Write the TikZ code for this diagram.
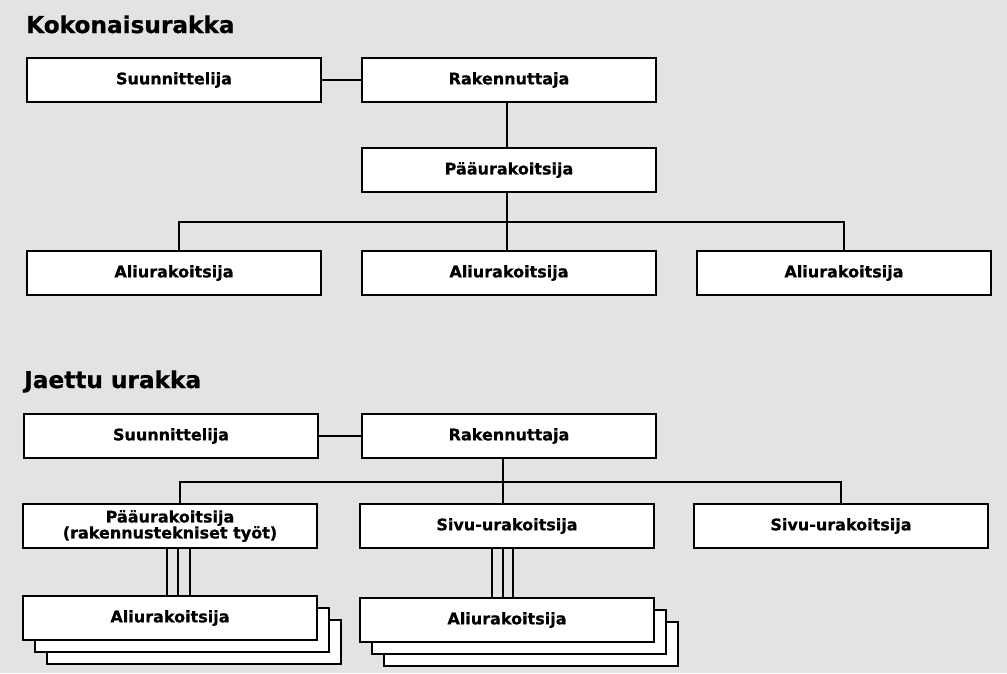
\documentclass[tikz,border=0pt]{standalone}
\usepackage{fontspec}
\setmainfont{DejaVu Sans}
\newfontfamily\labelfont{DejaVu Sans Bold}[FakeBold=0.8]
\begin{document}
\begin{tikzpicture}[x=1pt,y=-1pt,
  orgbox/.style={draw, fill=white, line width=2.2pt, inner sep=0pt,
    minimum width=294pt, minimum height=44pt, align=center,
    font=\labelfont\fontsize{16}{17}\selectfont},
  conn/.style={line width=2.2pt},
  heading/.style={anchor=base west, inner sep=0pt,
    font=\labelfont\fontsize{23.2}{26}\selectfont}]
% background
\fill[black!11] (0,0) rectangle (1007,673);
\useasboundingbox (0,0) rectangle (1007,673);

% ---------- Kokonaisurakka ----------
\node[heading] (t1) at (26,33) {Kokonaisurakka};
\node[orgbox] (s1) at (174,80) {Suunnittelija};
\node[orgbox] (r1) at (509,80) {Rakennuttaja};
\node[orgbox] (p1) at (509,170) {Pääurakoitsija};
\node[orgbox] (a1l) at (174,273) {Aliurakoitsija};
\node[orgbox] (a1m) at (509,273) {Aliurakoitsija};
\node[orgbox] (a1r) at (844,273) {Aliurakoitsija};
\coordinate (bus1) at (0,222);

\draw[conn] (s1) -- (r1);
\draw[conn] ([xshift=-2pt]r1.south) -- ([xshift=-2pt]p1.north);
\draw[conn] ([xshift=-2pt]p1.south) -- ([xshift=-2pt]a1m.north);
\draw[conn] ([xshift=5pt]a1l.north) -- ([xshift=5pt]a1l.north |- bus1)
  -- (a1r.north |- bus1) -- (a1r.north);

% ---------- Jaettu urakka ----------
\node[heading] (t2) at (24,388) {Jaettu urakka};
\node[orgbox] (s2) at (171,436) {Suunnittelija};
\node[orgbox] (r2) at (509,436) {Rakennuttaja};
\node[orgbox] (p2) at (170,526) {Pääurakoitsija\\[-1pt](rakennustekniset työt)};
\node[orgbox] (v2) at (507,526) {Sivu-urakoitsija};
\node[orgbox] (w2) at (841,526) {Sivu-urakoitsija};
\coordinate (bus2) at (0,482);

\draw[conn] (s2) -- (r2);
\draw[conn] ([xshift=-6pt]r2.south) -- ([xshift=-6pt]r2.south |- v2.north);
\draw[conn] ([xshift=10pt]p2.north) -- ([xshift=10pt]p2.north |- bus2)
  -- (w2.north |- bus2) -- (w2.north);

% stacked subcontractor boxes
\foreach \d in {24,12} {
  \node[orgbox] at (170+\d,618+\d) {};
  \node[orgbox] at (507+\d,620+\d) {};
}
\node[orgbox] (al2l) at (170,618) {Aliurakoitsija};
\node[orgbox] (al2m) at (507,620) {Aliurakoitsija};

% bundled links to the subcontractors
\foreach \o in {-3,8,20}
  \draw[conn] ([xshift=\o pt]p2.south) -- ([xshift=\o pt]p2.south |- al2l.north);
\foreach \o in {-15,-4,6}
  \draw[conn] ([xshift=\o pt]v2.south) -- ([xshift=\o pt]v2.south |- al2m.north);
\end{tikzpicture}
\end{document}
